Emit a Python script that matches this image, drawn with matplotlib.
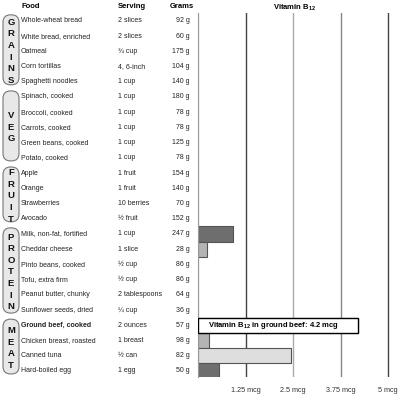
import numpy as np
import matplotlib
matplotlib.use("Agg")
import matplotlib.pyplot as plt
from matplotlib.patches import FancyBboxPatch

plt.rcParams['font.family'] = ['Liberation Sans', 'DejaVu Sans']
plt.rcParams['mathtext.fontset'] = 'custom'
plt.rcParams['mathtext.rm'] = 'Liberation Sans'
plt.rcParams['mathtext.bf'] = 'Liberation Sans:bold'

# data
foods = ["Whole-wheat bread", "White bread, enriched", "Oatmeal", "Corn tortillas",
         "Spaghetti noodles", "Spinach, cooked", "Broccoli, cooked", "Carrots, cooked",
         "Green beans, cooked", "Potato, cooked", "Apple", "Orange", "Strawberries",
         "Avocado", "Milk, non-fat, fortified", "Cheddar cheese", "Pinto beans, cooked",
         "Tofu, extra firm", "Peanut butter, chunky", "Sunflower seeds, dried",
         "Ground beef, cooked", "Chicken breast, roasted", "Canned tuna", "Hard-boiled egg"]
servings = ["2 slices", "2 slices", "¾ cup", "4, 6-inch", "1 cup", "1 cup", "1 cup", "1 cup",
            "1 cup", "1 cup", "1 fruit", "1 fruit", "10 berries", "½ fruit", "1 cup",
            "1 slice", "½ cup", "½ cup", "2 tablespoons", "¼ cup", "2 ounces", "1 breast",
            "½ can", "1 egg"]
grams = [92, 60, 175, 104, 140, 180, 78, 78, 125, 78, 154, 140, 70, 152, 247, 28,
         86, 86, 64, 36, 57, 98, 82, 50]
b12 = [0, 0, 0, 0, 0, 0, 0, 0, 0, 0, 0, 0, 0, 0, 0.93, 0.23, 0, 0, 0, 0, 4.2, 0.3, 2.45, 0.55]
bar_colors = ["#6e6e6e"] * 24
bar_colors[15] = "#b4b4b4"
bar_colors[21] = "#b4b4b4"
bar_colors[22] = "#dedede"
bar_colors[20] = "white"
groups = ["GRAINS", "VEG", "FRUIT", "PROTEIN", "MEAT"]
group_rows = [(0, 4), (5, 9), (10, 13), (14, 19), (20, 23)]
ticks = [1.25, 2.5, 3.75, 5]
tick_labels = ["1.25 mcg", "2.5 mcg", "3.75 mcg", "5 mcg"]
grid_colors = ["#444444", "#aaaaaa", "#888888", "#444444"]
highlight = 20

W, H = 400, 395
fig = plt.figure(figsize=(W / 100, H / 100), dpi=100)

# layout in pixels
ax_left, ax_right = 198, 392
ax_top, ax_bot = 13.3, 377
row_top, row_bot = -0.5, 23.4
px_per_row = (ax_bot - ax_top) / (row_bot - row_top)

ax = fig.add_axes([ax_left / W, 1 - ax_bot / H, (ax_right - ax_left) / W, (ax_bot - ax_top) / H])
ax.set_ylim(row_bot, row_top)
ax.set_xlim(0, 5 * (ax_right - ax_left) / (388 - ax_left))

# table overlay axes (x in pixels, y in rows)
ax0 = fig.add_axes([0, 0, 1, 1], zorder=-1)
ax0.set_xlim(0, W)
ax0.set_ylim(row_bot + (H - ax_bot) / px_per_row, row_top - ax_top / px_per_row)
ax0.axis('off')

y = np.arange(len(foods))
for t, c in zip(ticks, grid_colors):
    ax.axvline(t, color=c, lw=1, zorder=0)
ax.barh(y, b12, height=1.0, color=bar_colors, edgecolor="#555555", lw=0.8, zorder=2)
ax.barh(highlight, b12[highlight], height=1.0, color="white", edgecolor="black", lw=1, zorder=3)
ax.text(0.27, highlight, r"Vitamin B$_{\mathbf{12}}$ in ground beef: 4.2 mcg", fontsize=5.5,
        fontweight='bold', va='center', ha='left', zorder=4)

for s in ["top", "right", "bottom"]:
    ax.spines[s].set_visible(False)
ax.spines["left"].set_color("#999999")
ax.set_yticks([])
ax.set_xticks(ticks)
ax.set_xticklabels(tick_labels, fontsize=5.2, color="#333333")
ax.tick_params(axis='x', length=0, pad=7)
ax.set_title(r"Vitamin B$_{\mathbf{12}}$", fontsize=5.5, fontweight='bold', pad=3)
ax.patch.set_alpha(0)

# header
hy = row_top - (ax_top - 6) / px_per_row
ax0.text(21, hy, "Food", fontsize=5.5, fontweight='bold', va='center')
ax0.text(118, hy, "Serving", fontsize=5.5, fontweight='bold', va='center')
ax0.text(194, hy, "Grams", fontsize=5.5, fontweight='bold', va='center', ha='right')

for i in range(len(foods)):
    fw = 'bold' if i == highlight else 'normal'
    ax0.text(21, i, foods[i], fontsize=5, va='center', color="#222222", fontweight=fw)
    ax0.text(118, i, servings[i], fontsize=5, va='center', color="#222222")
    ax0.text(190, i, "%d g" % grams[i], fontsize=5, va='center', ha='right', color="#222222")

# group labels
for name, (a, b) in zip(groups, group_rows):
    box = FancyBboxPatch((3, a - 0.4), 16, b - a + 0.6,
                         boxstyle="round,pad=0,rounding_size=7.5",
                         mutation_aspect=1 / px_per_row,
                         fc="#e8e8e8", ec="#777777", lw=0.8)
    ax0.add_patch(box)
    mid = (a + b) / 2
    n = len(name)
    for k, ch in enumerate(name):
        ax0.text(11, mid + (k - (n - 1) / 2) * 0.76, ch, fontsize=6.8, fontweight='bold',
                 ha='center', va='center', color="#111111")

fig.savefig("out.png", dpi=100)
